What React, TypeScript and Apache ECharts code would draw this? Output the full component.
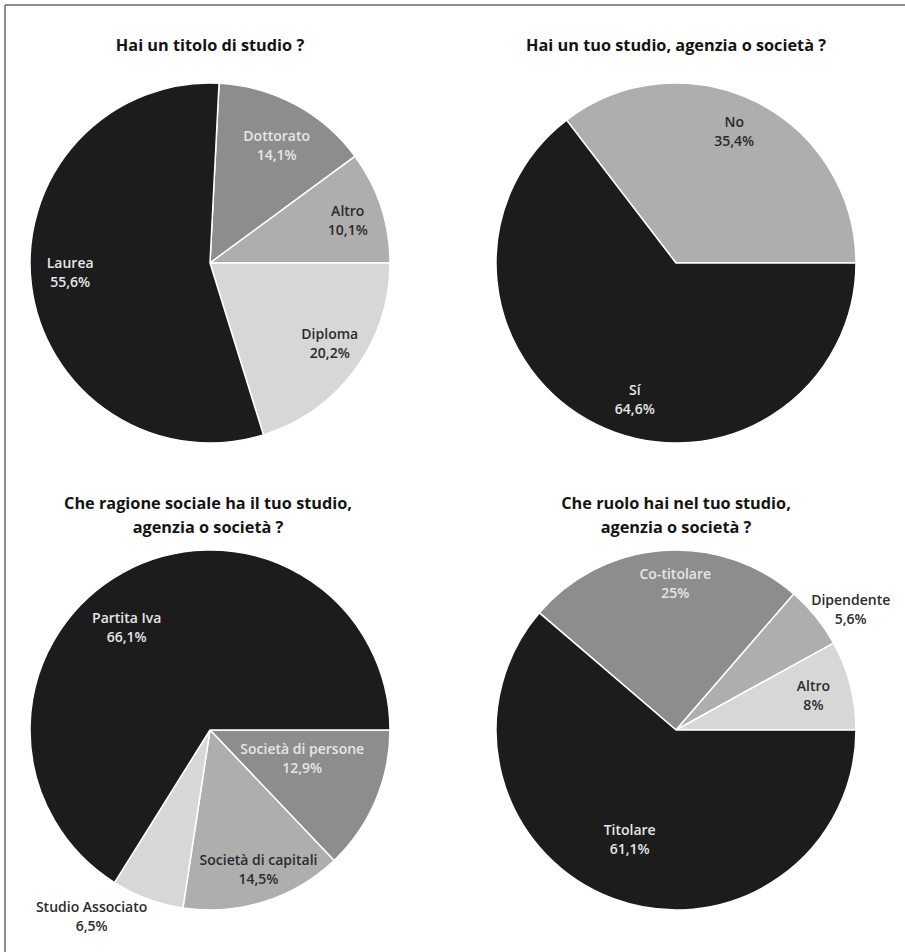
import React, { useEffect, useRef } from 'react';
import * as echarts from 'echarts';

// ---- data ----
const titleStudy = 'Hai un titolo di studio ?';
const titleOwn = 'Hai un tuo studio, agenzia o società ?';
const titleForm = 'Che ragione sociale ha il tuo studio,\nagenzia o società ?';
const titleRole = 'Che ruolo hai nel tuo studio,\nagenzia o società ?';

const studyCats = ['Dottorato', 'Altro', 'Diploma', 'Laurea'];
const studyVals = [14.1, 10.1, 20.2, 55.6];

const ownCats = ['No', 'Sí'];
const ownVals = [35.4, 64.6];

const formCats = ['Società di persone', 'Società di capitali', 'Studio Associato', 'Partita Iva'];
const formVals = [12.9, 14.5, 6.5, 66.1];

const roleCats = ['Co-titolare', 'Dipendente', 'Altro', 'Titolare'];
const roleVals = [25, 5.6, 8, 61.1];

// ---- styles ----
const DARK = '#1c1c1c';
const MID = '#8d8d8d';
const LIGHT = '#aeaeae';
const PALE = '#d7d7d7';
const TXT_L = '#e6e6e6';
const TXT_D = '#2b2b2b';
const FONT = '"Open Sans", "Noto Sans", sans-serif';
const R = 180;

type Panel = {
  title: string;
  titleTop: number;
  cats: string[];
  vals: number[];
  colors: string[];
  labelColors: string[];
  center: [number, number];
  firstBelow: number; // number of slices drawn above the 3 o'clock radius
  nudges: [number, number][];
};

const panels: Panel[] = [
  {
    title: titleStudy, titleTop: 33, cats: studyCats, vals: studyVals,
    colors: [MID, LIGHT, PALE, DARK], labelColors: [TXT_L, TXT_D, TXT_D, TXT_L],
    center: [210, 263], firstBelow: 2,
    nudges: [[-2, 10], [0, 2], [3, -6], [4, -9]],
  },
  {
    title: titleOwn, titleTop: 33, cats: ownCats, vals: ownVals,
    colors: [LIGHT, DARK], labelColors: [TXT_D, TXT_L],
    center: [676, 263], firstBelow: 1,
    nudges: [[-6, -2], [23, 6]],
  },
  {
    title: titleForm, titleTop: 491, cats: formCats, vals: formVals,
    colors: [MID, LIGHT, PALE, DARK], labelColors: [TXT_L, TXT_D, TXT_D, TXT_L],
    center: [208, 730], firstBelow: 0,
    nudges: [[-41, -29], [5, 1], [-68, 50], [-13, 24]],
  },
  {
    title: titleRole, titleTop: 491, cats: roleCats, vals: roleVals,
    colors: [MID, LIGHT, PALE, DARK], labelColors: [TXT_L, TXT_D, TXT_D, TXT_L],
    center: [676, 730], firstBelow: 3,
    nudges: [[10, -2], [62, -30], [-3, 1], [4, -27]],
  },
];

const fmt = (v: number) => String(v).replace('.', ',') + '%';

export default function App() {
  const ref = useRef<HTMLDivElement>(null);
  useEffect(() => {
    if (!ref.current) return;
    const chart = echarts.init(ref.current, undefined, { renderer: 'svg' });
    const series: any[] = [];
    panels.forEach((p, pi) => {
      const total = p.vals.reduce((a, b) => a + b, 0);
      const before = p.vals.slice(0, p.firstBelow).reduce((a, b) => a + b, 0);
      const startAngle = (before / total) * 360;
      const pieCenter: [number, number] = pi === 2 ? [210, 730] : p.center;
      series.push({
        type: 'pie',
        center: pieCenter,
        radius: [0, R],
        startAngle,
        clockwise: true,
        silent: true,
        label: { show: false },
        labelLine: { show: false },
        itemStyle: { borderColor: '#ffffff', borderWidth: 1.5 },
        data: p.cats.map((c, i) => ({ name: c, value: p.vals[i], itemStyle: { color: p.colors[i] } })),
      });
      series.push({
        type: 'pie',
        center: pieCenter,
        radius: [104, R],
        startAngle,
        clockwise: true,
        silent: true,
        z: 5,
        itemStyle: { color: 'rgba(0,0,0,0)', borderWidth: 0 },
        labelLine: { show: false },
        label: {
          show: true,
          position: 'inside',
          fontFamily: FONT,
          fontSize: 14,
          fontWeight: 600,
          lineHeight: 19,
          align: 'center',
          formatter: (pr: any) => pr.name + '\n' + fmt(pr.value),
        },
        labelLayout: (lp: any) => {
          const n = p.nudges[lp.dataIndex] || [0, 0];
          return { dx: n[0], dy: n[1] };
        },
        data: p.cats.map((c, i) => ({
          name: c,
          value: p.vals[i],
          label: { color: p.labelColors[i] },
        })),
      });
    });
    chart.setOption({
      animation: false,
      backgroundColor: '#ffffff',
      title: panels.map((p) => ({
        text: p.title,
        left: p.center[0],
        top: p.titleTop,
        textAlign: 'center',
        padding: 0,
        textStyle: { fontFamily: FONT, fontSize: 16.3, fontWeight: 'bold', color: '#141414', lineHeight: 24 },
      })),
      graphic: [
        { type: 'line', shape: { x1: 5, y1: 5, x2: 905, y2: 5 }, style: { stroke: '#6a6a6a', lineWidth: 1.5 } },
        { type: 'line', shape: { x1: 5, y1: 5, x2: 5, y2: 952 }, style: { stroke: '#6a6a6a', lineWidth: 1.5 } },
      ],
      series,
    });
    return () => chart.dispose();
  }, []);
  return <div ref={ref} style={{ position: 'absolute', left: 0, top: 0, width: 905, height: 952 }} />;
}
